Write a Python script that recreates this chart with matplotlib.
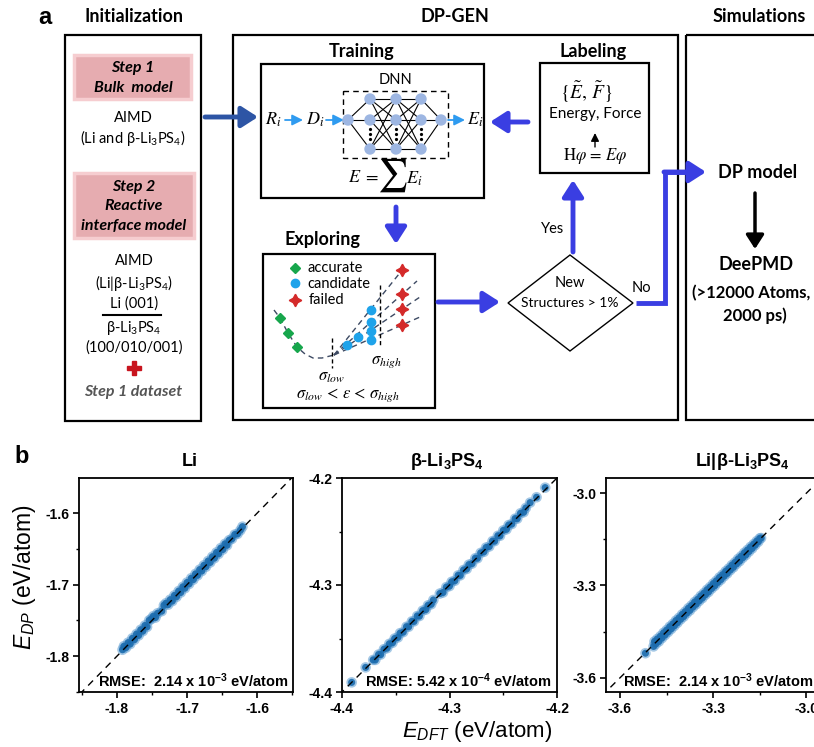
import matplotlib
matplotlib.use('Agg')
import matplotlib.pyplot as plt
from matplotlib.patches import Rectangle, Polygon, Circle
from matplotlib.ticker import MultipleLocator

plt.rcParams['font.family'] = ['Lato', 'DejaVu Sans']
plt.rcParams['mathtext.fontset'] = 'custom'
plt.rcParams['mathtext.rm'] = 'Liberation Sans'
plt.rcParams['mathtext.it'] = 'Liberation Sans:italic'
plt.rcParams['mathtext.bf'] = 'Liberation Sans:bold'
plt.rcParams['axes.unicode_minus'] = False

# ---- panel b data (eV/atom) ----
li_dft = [-1.792, -1.790, -1.787, -1.784, -1.781, -1.778, -1.775, -1.772, -1.769, -1.766,
          -1.763, -1.760, -1.757, -1.754, -1.751, -1.748, -1.745, -1.742, -1.736, -1.733,
          -1.730, -1.727, -1.724, -1.721, -1.718, -1.715, -1.712, -1.709, -1.706, -1.703,
          -1.700, -1.697, -1.694, -1.691, -1.688, -1.685, -1.682, -1.679, -1.676, -1.673,
          -1.670, -1.667, -1.664, -1.661, -1.658, -1.655, -1.652, -1.649, -1.646, -1.643,
          -1.640, -1.636, -1.632, -1.628, -1.624, -1.621]
li_dp = [-1.791, -1.786, -1.788, -1.781, -1.783, -1.775, -1.777, -1.769, -1.771, -1.763,
         -1.765, -1.757, -1.759, -1.750, -1.748, -1.744, -1.746, -1.740, -1.737, -1.729,
         -1.726, -1.728, -1.721, -1.723, -1.715, -1.717, -1.709, -1.711, -1.703, -1.705,
         -1.697, -1.699, -1.691, -1.693, -1.685, -1.687, -1.679, -1.681, -1.673, -1.675,
         -1.667, -1.669, -1.661, -1.663, -1.655, -1.657, -1.649, -1.651, -1.643, -1.645,
         -1.638, -1.636, -1.630, -1.629, -1.624, -1.619]

beta_dft = [-4.391, -4.378, -4.371, -4.369, -4.366, -4.364, -4.361, -4.358, -4.356, -4.353,
            -4.351, -4.348, -4.346, -4.343, -4.340, -4.338, -4.335, -4.333, -4.330, -4.328,
            -4.325, -4.322, -4.320, -4.317, -4.315, -4.309, -4.306, -4.303, -4.300, -4.298,
            -4.295, -4.292, -4.290, -4.287, -4.284, -4.282, -4.279, -4.276, -4.274, -4.271,
            -4.268, -4.266, -4.263, -4.260, -4.258, -4.255, -4.253, -4.250, -4.247, -4.245,
            -4.242, -4.239, -4.237, -4.234, -4.231, -4.229, -4.225, -4.219, -4.211]
beta_dp = [-4.391, -4.377, -4.370, -4.370, -4.365, -4.365, -4.360, -4.359, -4.355, -4.354,
           -4.350, -4.349, -4.345, -4.344, -4.339, -4.339, -4.334, -4.334, -4.329, -4.329,
           -4.324, -4.323, -4.319, -4.318, -4.314, -4.308, -4.307, -4.302, -4.301, -4.297,
           -4.296, -4.291, -4.291, -4.286, -4.285, -4.281, -4.280, -4.275, -4.275, -4.270,
           -4.269, -4.265, -4.264, -4.259, -4.259, -4.254, -4.254, -4.249, -4.248, -4.244,
           -4.243, -4.238, -4.238, -4.233, -4.232, -4.228, -4.223, -4.218, -4.209]

intf_dft = [-3.518, -3.492, -3.489, -3.485, -3.480, -3.475, -3.470, -3.465, -3.460, -3.455,
            -3.450, -3.445, -3.440, -3.435, -3.430, -3.425, -3.420, -3.415, -3.410, -3.405,
            -3.400, -3.395, -3.390, -3.385, -3.380, -3.375, -3.370, -3.365, -3.360, -3.355,
            -3.350, -3.345, -3.340, -3.335, -3.330, -3.325, -3.320, -3.315, -3.310, -3.305,
            -3.300, -3.295, -3.290, -3.285, -3.280, -3.275, -3.270, -3.265, -3.260, -3.255,
            -3.250, -3.245, -3.240, -3.235, -3.230, -3.225, -3.220, -3.215, -3.210, -3.205,
            -3.200, -3.195, -3.190, -3.185, -3.180, -3.175, -3.170, -3.165, -3.160, -3.155,
            -3.150, -3.146]
intf_dp = [-3.520, -3.498, -3.482, -3.490, -3.474, -3.482, -3.465, -3.471, -3.454, -3.461,
           -3.445, -3.451, -3.434, -3.441, -3.425, -3.431, -3.414, -3.421, -3.405, -3.410,
           -3.394, -3.401, -3.385, -3.390, -3.374, -3.381, -3.365, -3.370, -3.354, -3.361,
           -3.345, -3.350, -3.334, -3.341, -3.325, -3.330, -3.314, -3.321, -3.305, -3.310,
           -3.294, -3.301, -3.285, -3.290, -3.274, -3.281, -3.265, -3.270, -3.254, -3.261,
           -3.245, -3.250, -3.234, -3.241, -3.225, -3.230, -3.214, -3.221, -3.205, -3.210,
           -3.194, -3.201, -3.185, -3.190, -3.175, -3.180, -3.166, -3.169, -3.156, -3.158,
           -3.147, -3.146]

panel_titles = ['Li', r'β-Li$_\mathregular{3}$PS$_\mathregular{4}$',
                r'Li|β-Li$_\mathregular{3}$PS$_\mathregular{4}$']
rmse_labels = [r'RMSE:  2.14 x 10$^\mathregular{-3}$ eV/atom',
               r'RMSE: 5.42 x 10$^\mathregular{-4}$ eV/atom',
               r'RMSE:  2.14 x 10$^\mathregular{-3}$ eV/atom']

W, H = 814, 747
fig = plt.figure(figsize=(W / 100, H / 100), dpi=100)

# ---------- panel a: workflow drawn in pixel coordinates ----------
ax0 = fig.add_axes([0, 0, 1, 1], zorder=0)
ax0.set_xlim(0, W)
ax0.set_ylim(H, 0)
ax0.axis('off')

BLUE = '#3a3ee2'
DARKBLUE = '#2d55a5'
LIGHTBLUE = '#2f9bf0'
NODE = '#9db6e2'
BODY = 10.5
HEAD = 13


def box(x0, y0, x1, y1, lw=1.6, ls='-', fc=None, ec='black', z=2):
    ax0.add_patch(Rectangle((x0, y0), x1 - x0, y1 - y0, fill=fc is not None,
                            facecolor=fc, edgecolor=ec, lw=lw, ls=ls, zorder=z))


def arrow(x0, y0, x1, y1, color=BLUE, lw=3.5, ms=14, hl=0.7, hw=0.45):
    ax0.annotate('', xy=(x1, y1), xytext=(x0, y0),
                 arrowprops=dict(arrowstyle=f'-|>,head_length={hl},head_width={hw}',
                                 color=color, lw=lw, mutation_scale=ms,
                                 shrinkA=0, shrinkB=0), zorder=4)


def txt(x, y, s, size=BODY, weight='normal', style='normal', color='black', **kw):
    ax0.text(x, y, s, ha='center', va='center', fontsize=size, fontweight=weight,
             fontstyle=style, color=color, zorder=5, **kw)


def mtxt(x, y, s, size=12, **kw):
    ax0.text(x, y, s, ha='center', va='center', fontsize=size, math_fontfamily='stix',
             zorder=5, **kw)


ax0.text(45, 18, 'a', fontsize=17, fontweight='bold', family='Liberation Sans',
         ha='center', va='center')
txt(134, 17, 'Initialization', HEAD, 'bold')
txt(455, 17, 'DP-GEN', HEAD, 'bold')
txt(759, 17, 'Simulations', HEAD, 'bold')

box(65, 35, 201, 421)
box(233, 35, 678, 420)
box(686, 35, 840, 420)

# Initialization column
for (x0, y0, x1, y1) in [(74, 55, 191, 99), (74, 173, 194, 238)]:
    box(x0, y0, x1, y1, lw=2.5, fc='#e6acb0', ec='#f6cdd0', z=1)
txt(133, 68, 'Step 1', 11.5, 'bold', 'italic')
txt(133, 88, 'Bulk  model', 11.5, 'bold', 'italic')
txt(133, 118, 'AIMD', BODY)
txt(133, 138, r'(Li and β-Li$_\mathregular{3}$PS$_\mathregular{4}$)', BODY)
txt(134, 187, 'Step 2', 11.5, 'bold', 'italic')
txt(134, 206, 'Reactive', 11.5, 'bold', 'italic')
txt(134, 226, 'interface model', 11.5, 'bold', 'italic')
txt(134, 261, 'AIMD', BODY)
txt(134, 283, r'(Li|β-Li$_\mathregular{3}$PS$_\mathregular{4}$)', BODY)
txt(134, 304, 'Li (001)', BODY)
ax0.plot([103, 161], [315, 315], color='black', lw=1.5)
txt(134, 328, r'β-Li$_\mathregular{3}$PS$_\mathregular{4}$', BODY)
txt(134, 348, '(100/010/001)', BODY)
ax0.plot([134], [368], marker='P', ms=10, color='#c8141e', mec='#c8141e')
txt(133, 392, 'Step 1 dataset', 11.5, 'bold', 'italic', color='#555555')

arrow(205, 117, 258, 117, color=DARKBLUE)

# Training
txt(362, 52, 'Training', HEAD, 'bold')
box(261, 64, 484, 198)
txt(396, 80, 'DNN', BODY)
box(343, 91, 448, 158, lw=1.0, ls=(0, (4, 3)))
mtxt(273, 120, r'$R_i$', 13)
mtxt(315, 120, r'$D_i$', 13)
mtxt(475, 120, r'$E_i$', 13)
arrow(285, 120, 303, 120, color=LIGHTBLUE, lw=1.3, ms=8, hl=0.8, hw=0.4)
arrow(326, 120, 344, 120, color=LIGHTBLUE, lw=1.3, ms=8, hl=0.8, hw=0.4)
arrow(448, 120, 465, 120, color=LIGHTBLUE, lw=1.3, ms=8, hl=0.8, hw=0.4)
layer_x = [370, 396, 421]
layer_y = [99, 120, 149]
for ly in layer_y:
    ax0.plot([348, layer_x[0]], [120, ly], color='black', lw=0.8, zorder=3)
    ax0.plot([layer_x[-1], 441], [ly, 120], color='black', lw=0.8, zorder=3)
for a, b in zip(layer_x[:-1], layer_x[1:]):
    for y1 in layer_y:
        for y2 in layer_y:
            ax0.plot([a, b], [y1, y2], color='black', lw=0.8, zorder=3)
for lx in layer_x:
    ax0.plot([lx, lx, lx], [129, 134, 139], ls='none', marker='o', ms=1.3,
             color='black', zorder=4)
    for ly in layer_y:
        ax0.add_patch(Circle((lx, ly), 5, color=NODE, zorder=4))
for nx in [348, 441]:
    ax0.add_patch(Circle((nx, 120), 5, color=NODE, zorder=4))
mtxt(364, 177, r'$E\ =$', 13)
mtxt(392, 175, r'$\sum$', 24)
mtxt(414, 179, r'$E_i$', 13)

# Labeling
txt(593, 51, 'Labeling', HEAD, 'bold')
box(540, 63, 649, 173)
mtxt(586, 92, r'$\{\tilde{E},\,\tilde{F}\}$', 14)
txt(595, 114, 'Energy, Force', 11)
arrow(595, 147, 595, 133, color='black', lw=1.0, ms=6, hl=0.8, hw=0.4)
mtxt(595, 156, r'$\mathrm{H}\varphi\,=\,E\varphi$', 12)
arrow(528, 122, 490, 122)

arrow(396, 207, 396, 244)
arrow(573, 252, 573, 180)
txt(553, 229, 'Yes', BODY)

# Exploring
txt(322, 239, 'Exploring', HEAD, 'bold')
box(263, 254, 435, 408)
ax0.plot([295], [268], marker='D', ms=5.5, color='#17a64c', ls='none')
ax0.plot([295], [283], marker='o', ms=6, color='#1ea3ea', ls='none')
ax0.plot([295], [300], marker=(4, 1, 0), ms=9, color='#d42a2a', ls='none')
ax0.text(308, 268, 'accurate', fontsize=BODY, va='center')
ax0.text(307, 284, 'candidate', fontsize=BODY, va='center')
ax0.text(309, 300, 'failed', fontsize=BODY, va='center')
dash = dict(color='#3d4a63', lw=1.0, ls=(0, (4, 3)))
ax0.plot([274, 280, 288, 297, 305, 313, 322, 334],
         [310, 318, 333, 347, 354, 358, 358, 355], **dash)
for ex, ey in [(403, 269), (417, 281), (420, 297), (420, 317)]:
    ax0.plot([334, ex], [355, ey], **dash)
ax0.plot([332, 332], [338, 368], color='black', lw=1.0, ls=(0, (3, 2)))
ax0.plot([380, 380], [285, 347], color='black', lw=1.0, ls=(0, (3, 2)))
for gx, gy in [(280, 318), (288, 333), (297, 347)]:
    ax0.plot([gx], [gy], marker='D', ms=5.5, color='#17a64c')
for bx, by in [(347, 345), (358, 337), (371, 310), (371, 322), (371, 331), (371, 340)]:
    ax0.plot([bx], [by], marker='o', ms=6, color='#1ea3ea')
for rx, ry in [(402, 270), (402, 294), (402, 309), (402, 325)]:
    ax0.plot([rx], [ry], marker=(4, 1, 0), ms=9, color='#d42a2a')
mtxt(331, 377, r'$\sigma_{low}$', 12)
mtxt(386, 362, r'$\sigma_{high}$', 12)
mtxt(348, 395, r'$\sigma_{low}\, <\, \epsilon\, <\, \sigma_{high}$', 12)

arrow(438, 302, 500, 302)
ax0.add_patch(Polygon([(508, 303), (570, 255), (633, 303), (570, 351)],
                      closed=True, fill=False, edgecolor='black', lw=1.0))
txt(570, 283, 'New', BODY)
txt(570, 303, 'Structures > 1%', 10)
txt(641, 288, 'No', BODY)

ax0.plot([636, 665, 665, 690], [303, 303, 172, 172], color=BLUE, lw=3.5,
         solid_joinstyle='miter', solid_capstyle='butt')
arrow(664, 172, 706, 172)

# Simulations
txt(758, 172, 'DP model', 13, 'bold')
arrow(755, 193, 755, 249, color='black', lw=2.5, ms=12)
txt(756, 264, 'DeePMD', 13, 'bold')
ax0.text(692, 293, '(>12000 Atoms,', fontsize=12, fontweight='bold',
         ha='left', va='center', zorder=5)
txt(755, 316, '2000 ps)', 12, 'bold')

# ---------- panel b: parity plots ----------
fig.text(22 / W, 1 - 457 / H, 'b', fontsize=17, fontweight='bold',
         family='Liberation Sans', ha='center', va='center')

dft_sets = [li_dft, beta_dft, intf_dft]
dp_sets = [li_dp, beta_dp, intf_dp]
lefts = [79, 342, 606]
widths = [214, 215, 216]
xlims = [(-1.854, -1.549), (-4.4, -4.2), (-3.645, -2.95)]
ylims = [(-1.850, -1.551), (-4.4, -4.2), (-3.646, -2.951)]
majors = [0.1, 0.1, 0.3]
title_x = [190, 447, 742]
text_x = [0.088, 0.107, 0.079]

for i in range(3):
    ax = fig.add_axes([lefts[i] / W, (H - 692) / H, widths[i] / W, 214 / H], zorder=2)
    ax.set_facecolor('none')
    # soft halo + darker core, like the overlapping markers of the original
    ax.scatter(dft_sets[i], dp_sets[i], s=58, color='#5b9bd0', alpha=0.55,
               edgecolors='none', zorder=3)
    ax.scatter(dft_sets[i], dp_sets[i], s=26, color='#1c6cae', alpha=0.9,
               edgecolors='none', zorder=3)
    lo, hi = xlims[i][0] - 0.1, xlims[i][1] + 0.1
    ax.plot([lo, hi], [lo, hi], color='black', lw=1.0, ls=(0, (5, 4)), zorder=4)
    ax.set_xlim(*xlims[i])
    ax.set_ylim(*ylims[i])
    ax.xaxis.set_major_locator(MultipleLocator(majors[i]))
    ax.yaxis.set_major_locator(MultipleLocator(majors[i]))
    ax.xaxis.set_minor_locator(MultipleLocator(majors[i] / 2))
    ax.yaxis.set_minor_locator(MultipleLocator(majors[i] / 2))
    ax.xaxis.set_major_formatter('{x:.1f}')
    ax.yaxis.set_major_formatter('{x:.1f}')
    ax.tick_params(which='major', direction='out', length=4, width=1.2, pad=3)
    ax.tick_params(which='minor', direction='out', length=2.5, width=1.0)
    for lab in ax.get_xticklabels() + ax.get_yticklabels():
        lab.set_fontfamily('Liberation Sans')
        lab.set_fontweight('bold')
        lab.set_fontsize(10)
    for sp in ax.spines.values():
        sp.set_linewidth(1.3)
    ax.text(text_x[i], 0.052, rmse_labels[i], transform=ax.transAxes,
            fontsize=10.5, fontweight='bold', family='Liberation Sans',
            ha='left', va='center', zorder=5)
    fig.text(title_x[i] / W, 1 - 461 / H, panel_titles[i], fontsize=13,
             fontweight='bold', family='Liberation Sans', ha='center', va='center')

fig.text(25 / W, 1 - 577 / H, r'$E_{DP}$ (eV/atom)', rotation=90, fontsize=16.5,
         family='Liberation Sans', ha='center', va='center')
fig.text(477 / W, 1 - 731 / H, r'$E_{DFT}$ (eV/atom)', fontsize=16,
         family='Liberation Sans', ha='center', va='center')

fig.savefig('out.png', dpi=100)
